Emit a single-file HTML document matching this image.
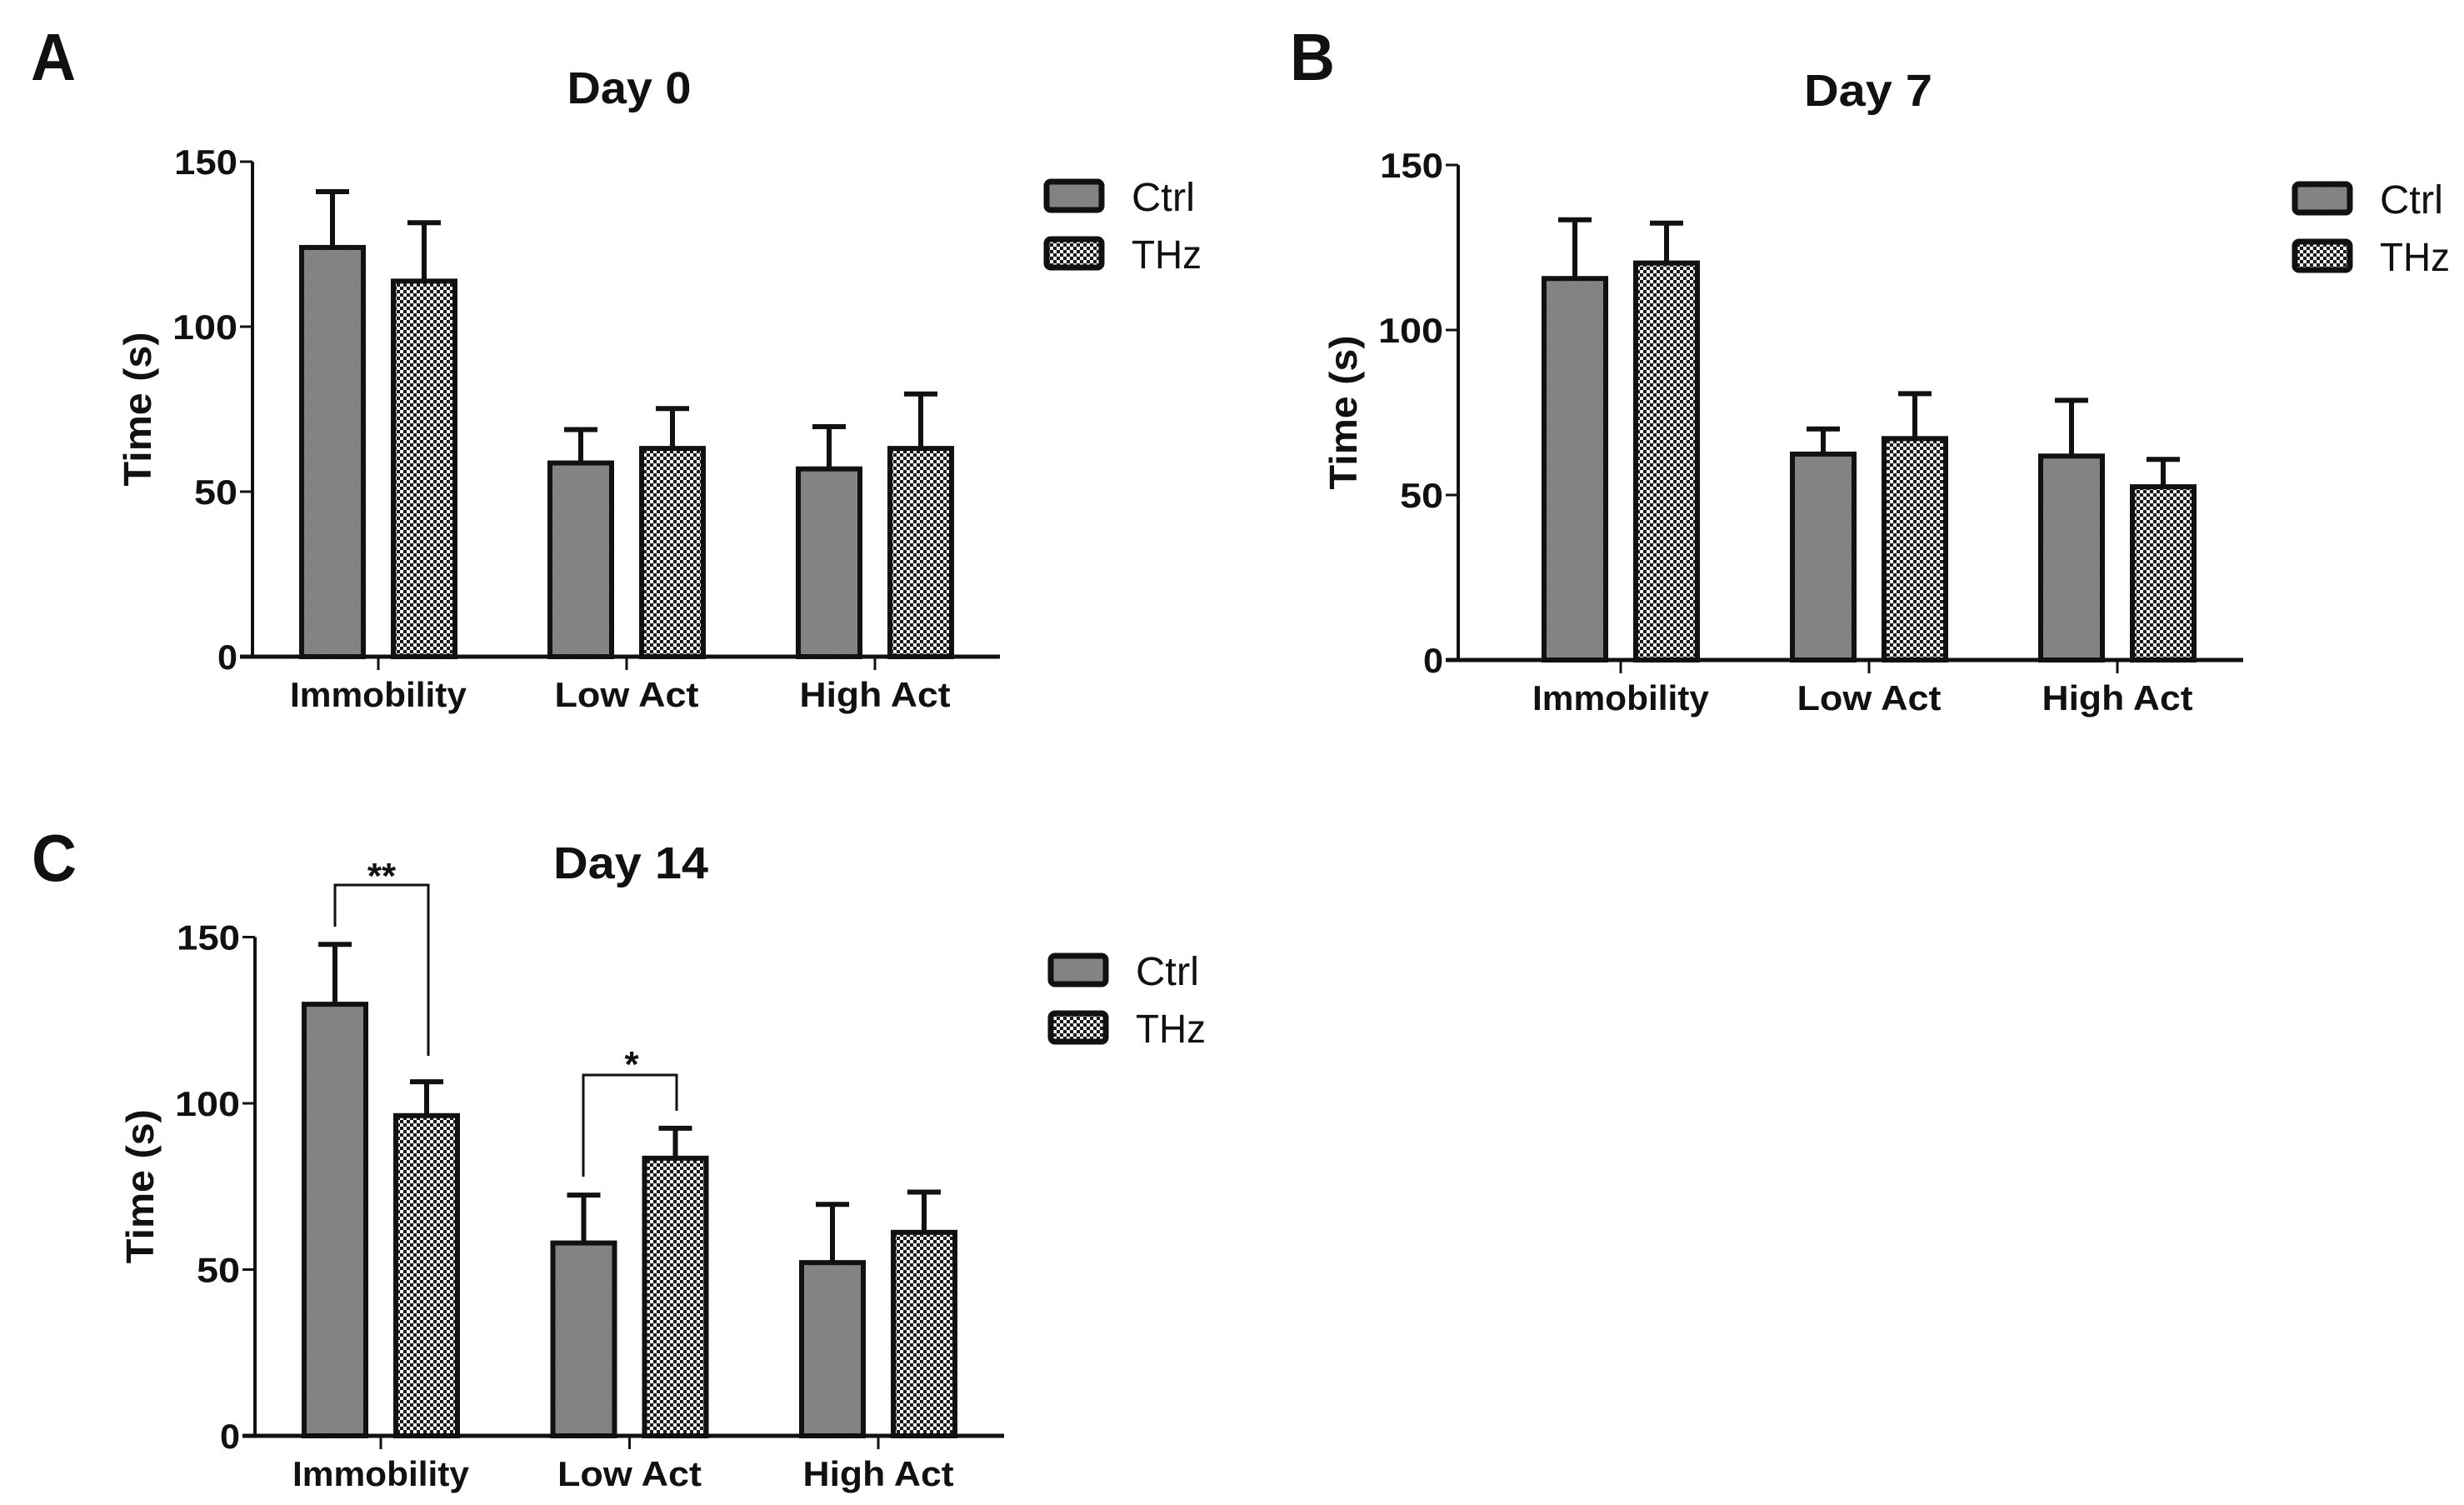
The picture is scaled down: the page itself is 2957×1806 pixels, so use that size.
<!DOCTYPE html>
<html><head><meta charset="utf-8"><style>
html,body{margin:0;padding:0;background:#fff;overflow:hidden;}
svg{display:block;}
text{font-family:"Liberation Sans",sans-serif;fill:#111;}
</style></head>
<body>
<svg id="fig" width="2957" height="1806" viewBox="0 0 2957 1806" xmlns="http://www.w3.org/2000/svg">
<defs>
<pattern id="ctrlPat" width="4" height="4" patternUnits="userSpaceOnUse">
<rect width="4" height="4" fill="#8a8a8a"/><rect width="2" height="2" fill="#7c7c7c"/><rect x="2" y="2" width="2" height="2" fill="#7c7c7c"/>
</pattern>
<pattern id="thzPat" width="8" height="8" patternUnits="userSpaceOnUse">
<rect width="8" height="8" fill="#f2f2f2"/><rect width="4" height="4" fill="#1a1a1a"/><rect x="4" y="4" width="4" height="4" fill="#1a1a1a"/>
</pattern>
</defs>
</svg>
<script>
const categories = ["Immobility", "Low Act", "High Act"];
const yTicks = [0, 50, 100, 150];
const ctrlA = [124, 58.7, 56.9];
const ctrlErrA = [16.9, 10.1, 12.8];
const thzA = [113.8, 63.1, 63.1];
const thzErrA = [17.7, 12.1, 16.5];
const ctrlB = [115.6, 62.4, 61.8];
const ctrlErrB = [17.8, 7.6, 16.9];
const thzB = [120.3, 67.1, 52.5];
const thzErrB = [12.1, 13.6, 8.3];
const ctrlC = [129.8, 58.0, 52.1];
const ctrlErrC = [18.0, 14.4, 17.5];
const thzC = [96.3, 83.5, 61.2];
const thzErrC = [10.2, 9.0, 12.1];

const NS = "http://www.w3.org/2000/svg";
const svg = document.getElementById("fig");
function mk(tag, attrs, parent, txt){
  const e = document.createElementNS(NS, tag);
  for (const k in attrs) e.setAttribute(k, attrs[k]);
  if (txt !== undefined) e.textContent = txt;
  (parent || svg).appendChild(e);
  return e;
}
const tickW = {"0":24,"50":52,"100":78,"150":76};
const catW = {"Immobility":212,"Low Act":173,"High Act":181};

function panel(p){
  const g = mk("g", {});
  
  
  const y = v => p.y0 - (v / 50) * p.per50;
  const cx = i => p.cat0 + i * p.catStep;
  const lbl = mk("text", {x:p.lx, y:p.ly, "font-size":80, "font-weight":"bold", textLength:54, lengthAdjust:"spacingAndGlyphs"}, g, p.letter);
  
  
  const t = mk("text", {x:p.tx, y:p.ty, "font-size":54, "font-weight":"bold", "text-anchor":"middle", textLength:p.tw, lengthAdjust:"spacingAndGlyphs"}, g, p.title);
  
  
  const yt = mk("text", {transform:`translate(${p.ax-122},${y(75)}) rotate(-90)`, "font-size":46, "font-weight":"bold", "text-anchor":"middle", textLength:185, lengthAdjust:"spacingAndGlyphs"}, g, "Time (s)");
  
  
  const series = [[p.ctrl, p.ctrlErr, "url(#ctrlPat)", -55, "ctrl"], [p.thz, p.thzErr, "url(#thzPat)", 55, "thz"]];
  series.forEach(s => {
    s[0].forEach((v, i) => {
      const c = cx(i) + s[3];
      const err = mk("path", {d:`M${c},${y(v)} V${y(v + s[1][i])} M${c-20},${y(v + s[1][i])} H${c+20}`, stroke:"#111", "stroke-width":6, fill:"none"}, g);
      
      
      const b = mk("rect", {x:c-37, y:y(v), width:74, height:y(0)-y(v), fill:s[2], stroke:"#111", "stroke-width":6}, g);
      
      
    });
  });
  const ya = mk("path", {d:`M${p.ax},${y(150)} V${y(0)}`, stroke:"#111", "stroke-width":4, fill:"none"}, g);
  
  
  const xa = mk("path", {d:`M${p.ax-15},${y(0)} H${p.xEnd}`, stroke:"#111", "stroke-width":5, fill:"none"}, g);
  
  
  yTicks.forEach(v => {
    const tk = mk("path", {d:`M${p.ax-15},${y(v)} H${p.ax}`, stroke:"#111", "stroke-width":3}, g);
    
    
    const tl = mk("text", {x:p.ax-18, y:y(v)+15, "font-size":42, "font-weight":"bold", "text-anchor":"end", textLength:tickW[v], lengthAdjust:"spacingAndGlyphs"}, g, String(v));
    
    
  });
  categories.forEach((c, i) => {
    const tk = mk("path", {d:`M${cx(i)},${y(0)} V${y(0)+16}`, stroke:"#111", "stroke-width":3}, g);
    
    
    const tl = mk("text", {x:cx(i), y:y(0)+60, "font-size":42, "font-weight":"bold", "text-anchor":"middle", textLength:catW[c], lengthAdjust:"spacingAndGlyphs"}, g, c);
    
    
  });
  [["Ctrl","url(#ctrlPat)",0,76],["THz","url(#thzPat)",1,84]].forEach(L => {
    const yy = p.legY + L[2]*69;
    const sw = mk("rect", {x:p.legX, y:yy, width:66, height:34, rx:5, fill:L[1], stroke:"#111", "stroke-width":7}, g);
    
    
    const lt = mk("text", {x:p.legX+102, y:yy+35, "font-size":48, textLength:L[3], lengthAdjust:"spacingAndGlyphs"}, g, L[0]);
    
    
  });
  return {g, y, cx};
}

panel({id:"a", letter:"A", lx:37, ly:96, title:"Day 0", tx:755, ty:124, tw:149, ax:303, y0:788, per50:198, cat0:454, catStep:298, xEnd:1200,
  ctrl:ctrlA, ctrlErr:ctrlErrA, thz:thzA, thzErr:thzErrA, legX:1256, legY:218});
panel({id:"b", letter:"B", lx:1548, ly:96, title:"Day 7", tx:2242, ty:127, tw:154, ax:1750, y0:792, per50:198, cat0:1945, catStep:298, xEnd:2692,
  ctrl:ctrlB, ctrlErr:ctrlErrB, thz:thzB, thzErr:thzErrB, legX:2754, legY:221});
const pc = panel({id:"c", letter:"C", lx:38, ly:1057, title:"Day 14", tx:757, ty:1054, tw:186, ax:306, y0:1723, per50:199.5, cat0:457, catStep:298.5, xEnd:1205,
  ctrl:ctrlC, ctrlErr:ctrlErrC, thz:thzC, thzErr:thzErrC, legX:1261, legY:1147});

const br1 = mk("path", {d:"M402,1112 V1062 H514 V1267", stroke:"#111", "stroke-width":3, fill:"none"}, pc.g);


const st1 = mk("text", {x:458, y:1066, "font-size":44, "font-weight":"bold", "text-anchor":"middle"}, pc.g, "**");


const br2 = mk("path", {d:"M700,1412 V1290 H812 V1333", stroke:"#111", "stroke-width":3, fill:"none"}, pc.g);


const st2 = mk("text", {x:758, y:1292, "font-size":44, "font-weight":"bold", "text-anchor":"middle"}, pc.g, "*");


</script>
</body></html>
